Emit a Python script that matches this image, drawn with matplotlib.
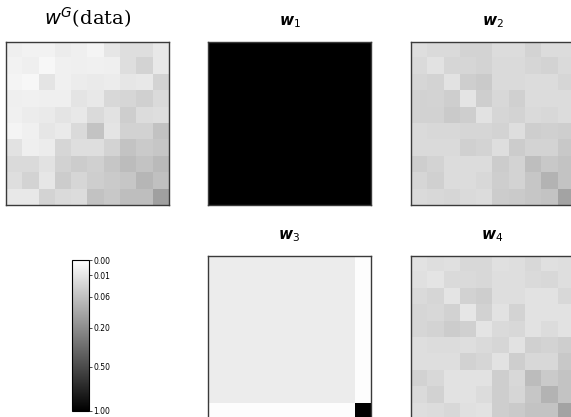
import matplotlib
matplotlib.use("Agg")
from matplotlib import pyplot as plt
from matplotlib import colors
import numpy as np

plt.rcParams['mathtext.fontset'] = 'dejavusans'

# weights shown in each panel (10 x 10)
wG_data = [
    [.0044, .0026, .0026, .0056, .0044, .0019, .0096, .0167, .0167, .0081],
    [.0026, .0044, .0012, .0035, .0044, .0035, .0044, .0167, .0284, .0081],
    [.0019, .0012, .0112, .0035, .0056, .0068, .0056, .0096, .0081, .0284],
    [.0044, .0035, .0044, .0044, .0112, .0081, .0234, .0259, .0340, .0211],
    [.0035, .0056, .0068, .0112, .0081, .0211, .0129, .0369, .0188, .0167],
    [.0019, .0035, .0096, .0068, .0211, .0535, .0112, .0311, .0311, .0572],
    [.0129, .0044, .0056, .0259, .0167, .0167, .0284, .0535, .0432, .0500],
    [.0211, .0211, .0129, .0311, .0400, .0340, .0500, .0690, .0535, .0732],
    [.0167, .0284, .0096, .0400, .0259, .0369, .0432, .0500, .0820, .0610],
    [.0081, .0081, .0284, .0211, .0188, .0572, .0465, .0650, .0650, .1388],
]

w1 = [[1.0] * 10 for _ in range(10)]

w2 = [
    [.0167, .0211, .0211, .0284, .0284, .0188, .0188, .0284, .0188, .0188],
    [.0211, .0129, .0259, .0259, .0284, .0211, .0211, .0259, .0284, .0211],
    [.0259, .0284, .0129, .0369, .0432, .0211, .0211, .0188, .0188, .0259],
    [.0311, .0284, .0369, .0112, .0369, .0234, .0340, .0188, .0188, .0188],
    [.0311, .0311, .0432, .0369, .0129, .0259, .0284, .0211, .0234, .0188],
    [.0211, .0234, .0234, .0259, .0259, .0284, .0167, .0369, .0340, .0369],
    [.0211, .0211, .0211, .0340, .0284, .0167, .0400, .0284, .0284, .0465],
    [.0369, .0284, .0188, .0188, .0188, .0400, .0284, .0650, .0465, .0535],
    [.0259, .0340, .0188, .0188, .0234, .0369, .0284, .0500, .0865, .0535],
    [.0211, .0234, .0259, .0211, .0188, .0400, .0432, .0500, .0535, .1274],
]

w3 = [[.0061] * 9 + [.0001] for _ in range(9)] + [[.0001] * 9 + [1.0]]

w4 = [
    [.0129, .0167, .0148, .0234, .0234, .0148, .0167, .0234, .0148, .0167],
    [.0148, .0112, .0211, .0211, .0234, .0167, .0167, .0211, .0234, .0167],
    [.0211, .0259, .0112, .0311, .0369, .0167, .0167, .0129, .0129, .0234],
    [.0259, .0234, .0311, .0096, .0311, .0129, .0284, .0129, .0129, .0129],
    [.0259, .0284, .0400, .0340, .0112, .0211, .0234, .0129, .0188, .0129],
    [.0167, .0188, .0188, .0167, .0211, .0259, .0129, .0340, .0284, .0369],
    [.0167, .0167, .0167, .0311, .0259, .0129, .0369, .0234, .0234, .0465],
    [.0311, .0234, .0129, .0129, .0129, .0369, .0234, .0690, .0432, .0535],
    [.0211, .0311, .0129, .0129, .0188, .0369, .0259, .0500, .0865, .0535],
    [.0167, .0188, .0234, .0148, .0129, .0369, .0432, .0535, .0535, .1274],
]

cbar_ticks = [0.0, 0.01, 0.06, 0.20, 0.50, 1.00]

W, H = 571, 417
fig = plt.figure(figsize=(W / 100, H / 100), dpi=100)
norm = colors.PowerNorm(gamma=0.5, vmin=0, vmax=1)

def px_axes(x0, y0, w, h):
    return fig.add_axes([x0 / W, 1 - (y0 + h) / H, w / W, h / H])

panels = [
    (wG_data, 6, 42, r'$w^G$(data)', 14, 18, 'DejaVu Serif'),
    (w1, 208, 42, r'$\mathbfit{w}_1$', 11, 22, 'DejaVu Sans'),
    (w2, 411, 42, r'$\mathbfit{w}_2$', 11, 22, 'DejaVu Sans'),
    (w3, 208, 256, r'$\mathbfit{w}_3$', 11, 236, 'DejaVu Sans'),
    (w4, 411, 256, r'$\mathbfit{w}_4$', 11, 236, 'DejaVu Sans'),
]

for data, x0, y0, title, fs, ty, fam in panels:
    ax = px_axes(x0, y0, 163, 163)
    im = ax.imshow(np.array(data), cmap='gray_r', norm=norm,
                   interpolation='nearest', aspect='auto')
    ax.set_xticks([])
    ax.set_yticks([])
    for s in ax.spines.values():
        s.set_color('#3a3a3a')
        s.set_linewidth(1.0)
    fig.text((x0 + 81.5) / W, 1 - ty / H, title, fontsize=fs,
             family=fam, ha='center', va='center')

cax = px_axes(72, 260, 17, 151)
cb = fig.colorbar(im, cax=cax, ticks=cbar_ticks)
cax.invert_yaxis()
cb.ax.set_yticklabels(['%.2f' % t for t in cbar_ticks])
cb.ax.tick_params(labelsize=5.5, length=2, width=0.5, pad=1)
cb.outline.set_linewidth(0.8)

fig.savefig('out.png', dpi=100)
